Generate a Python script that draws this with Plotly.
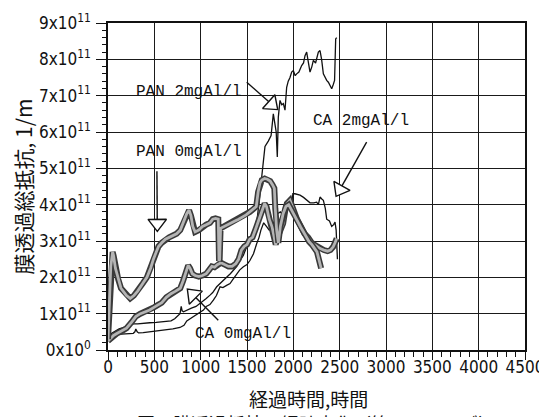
import math
import plotly.graph_objects as go

# ---------------- data (resistance in units of 1e11 1/m, time in hours) ----------------
pan0_h = [0, 15, 30, 50, 60, 80, 110, 140, 170, 200, 240, 280, 320, 350, 380, 420, 460, 490, 520, 545,
          580, 620, 660, 700, 740, 780, 820, 850, 875, 895, 915, 940, 980, 1020, 1060, 1100, 1130, 1160,
          1190, 1198, 1205, 1215, 1250, 1290, 1330, 1370, 1410, 1450, 1490, 1530, 1570, 1600, 1620, 1640,
          1660, 1690, 1720, 1750, 1775, 1795, 1805, 1820, 1838, 1860, 1890, 1920, 1950, 1990, 2020, 2050,
          2080, 2110, 2140, 2170, 2200, 2230, 2255, 2275, 2290, 2300]
pan0_v = [0.3, 1.2, 2.3, 2.7, 2.6, 2.25, 1.95, 1.7, 1.6, 1.5, 1.42, 1.5, 1.62, 1.72, 1.85, 2.0, 2.25, 2.5,
          2.7, 2.85, 2.95, 3.05, 3.1, 3.15, 3.2, 3.3, 3.55, 3.75, 3.85, 3.7, 3.4, 3.25, 3.3, 3.4, 3.45, 3.5,
          3.6, 3.62, 3.6, 2.45, 2.5, 3.35, 3.4, 3.45, 3.5, 3.55, 3.6, 3.65, 3.72, 3.8, 3.88, 3.95, 4.35,
          4.6, 4.68, 4.72, 4.7, 4.65, 4.55, 4.45, 3.9, 3.3, 2.95, 3.4, 3.75, 3.95, 4.0, 3.8, 3.65, 3.5,
          3.38, 3.25, 3.1, 2.98, 2.9, 2.8, 2.7, 2.5, 2.3, 2.25]

ca0_h = [0, 20, 60, 100, 150, 200, 250, 300, 350, 400, 450, 500, 540, 580, 630, 680, 730, 780, 810, 840,
         865, 885, 910, 940, 980, 1020, 1060, 1090, 1120, 1150, 1180, 1220, 1260, 1300, 1340, 1380, 1410,
         1440, 1470, 1500, 1530, 1560, 1600, 1630, 1660, 1690, 1710, 1740, 1770, 1790, 1810, 1830, 1860,
         1890, 1910, 1930, 1964, 2000, 2040, 2080, 2120, 2160, 2200, 2240, 2290, 2330, 2370, 2400, 2430,
         2450, 2468]
ca0_v = [0.25, 0.3, 0.4, 0.46, 0.52, 0.6, 0.75, 0.92, 1.0, 1.05, 1.1, 1.18, 1.24, 1.3, 1.45, 1.55, 1.62,
         1.7, 1.9, 2.15, 2.33, 2.25, 2.1, 2.05, 2.02, 2.05, 2.1, 2.2, 2.3, 2.28, 2.35, 2.4, 2.35, 2.3, 2.3,
         2.38, 2.5, 2.75, 2.85, 2.9, 3.05, 3.1, 3.38, 3.6, 3.85, 4.03, 3.95, 3.6, 3.39, 3.1, 2.9, 3.1, 3.3,
         3.48, 3.8, 4.03, 4.12, 3.85, 3.6, 3.4, 3.2, 3.1, 2.95, 2.88, 2.79, 2.75, 2.72, 2.75, 2.84, 2.95, 3.07]

pan2_h = [0, 20, 40, 80, 120, 180, 230, 273, 320, 380, 450, 520, 580, 633, 680, 720, 760, 777, 790, 800,
          815, 850, 900, 950, 993, 1030, 1060, 1101, 1130, 1173, 1200, 1245, 1280, 1320, 1353, 1390, 1425,
          1460, 1497, 1530, 1560, 1590, 1610, 1630, 1650, 1670, 1694, 1730, 1760, 1784, 1802, 1815, 1827,
          1838, 1856, 1875, 1892, 1910, 1928, 1945, 1964, 1982, 2000, 2020, 2036, 2060, 2090, 2110, 2126,
          2144, 2160, 2180, 2200, 2216, 2240, 2270, 2288, 2305, 2324, 2342, 2360, 2378, 2414, 2430, 2445,
          2457, 2468]
pan2_v = [0.3, 0.38, 0.46, 0.52, 0.58, 0.63, 0.68, 0.72, 0.72, 0.74, 0.75, 0.76, 0.77, 0.78, 0.8, 0.86,
          0.95, 1.0, 1.2, 1.08, 1.05, 1.1, 1.15, 1.2, 1.28, 1.35, 1.42, 1.51, 1.58, 1.74, 1.8, 1.92, 2.0,
          2.1, 2.2, 2.3, 2.47, 2.6, 2.84, 3.0, 3.1, 3.2, 3.6, 4.1, 4.6, 5.0, 5.6, 5.75, 5.9, 6.5, 6.23, 6.0,
          5.31, 6.41, 6.87, 6.75, 6.78, 6.6, 7.23, 7.4, 7.5, 7.65, 7.69, 7.55, 7.6, 7.65, 7.83, 7.9, 8.1,
          8.2, 7.95, 7.65, 7.8, 7.97, 7.9, 8.2, 8.24, 8.0, 7.6, 7.5, 7.42, 7.37, 7.19, 7.3, 7.42, 8.56, 8.6]

ca2_h = [0, 30, 57, 100, 150, 200, 250, 273, 290, 300, 315, 330, 380, 450, 520, 580, 633, 700, 777, 820,
         850, 880, 920, 960, 993, 1030, 1060, 1100, 1137, 1170, 1209, 1240, 1280, 1317, 1350, 1389, 1420,
         1461, 1500, 1533, 1570, 1605, 1630, 1650, 1680, 1710, 1740, 1770, 1800, 1830, 1860, 1890, 1920,
         1950, 1980, 1995, 2018, 2050, 2072, 2110, 2150, 2180, 2220, 2252, 2270, 2288, 2310, 2324, 2345,
         2360, 2390, 2414, 2435, 2450, 2462, 2468, 2474, 2476]
ca2_v = [0.3, 0.36, 0.41, 0.43, 0.44, 0.45, 0.46, 0.46, 0.5, 0.58, 0.5, 0.47, 0.48, 0.5, 0.52, 0.53,
         0.55, 0.58, 0.62, 0.68, 0.8, 0.85, 0.92, 1.0, 1.05, 1.1, 1.2, 1.25, 1.37, 1.5, 1.74, 1.72, 1.78,
         1.83, 1.95, 2.1, 2.2, 2.29, 2.35, 2.47, 2.65, 2.93, 3.1, 3.3, 3.5, 3.4, 3.3, 3.4, 3.6, 3.75, 3.8,
         3.7, 3.85, 3.95, 3.9, 4.3, 4.3, 4.28, 4.26, 4.2, 4.12, 4.05, 4.05, 4.07, 4.0, 4.21, 4.15, 4.12,
         3.9, 3.6, 3.55, 3.4, 3.45, 3.52, 3.3, 3.02, 2.75, 2.5]

x_ticks = [0, 500, 1000, 1500, 2000, 2500, 3000, 3500, 4000, 4500]
y_ticks = [0, 1, 2, 3, 4, 5, 6, 7, 8, 9]
y_ticktext = ["0x10<sup>0</sup>"] + [f"{v}x10<sup>11</sup>" for v in y_ticks[1:]]

labels = ["PAN 2mgAl/l", "PAN 0mgAl/l", "CA 2mgAl/l", "CA 0mgAl/l"]
label_h = [870, 870, 2730, 1460]
label_v = [7.1, 5.45, 6.3, 0.45]
arrow_start_h = [1497, 528, 2791, 1190]
arrow_start_v = [7.37, 4.92, 5.72, 0.82]
arrow_tip_h = [1821, 532, 2468, 866]
arrow_tip_v = [6.64, 3.30, 4.26, 1.65]

x_title = "経過時間,時間"
y_title = "膜透過総抵抗, 1/m"
caption = "図 2 膜透過抵抗の経時変化（第 1 シリーズ）"

# ---------------- figure ----------------
# the page body has an 8px margin, so the figure is 8px smaller than the window
W, H = 539, 409
ML, MR, MT, MB = 100, 22, 15, 67
PH = H - MT - MB
px_per_h = (W - ML - MR) / 4500.0
px_per_v = PH / 9.0

fig = go.Figure()

def thick(hs, vs):
    fig.add_trace(go.Scatter(x=hs, y=vs, mode="lines", line=dict(color="#3a3a3a", width=6),
                             showlegend=False, hoverinfo="skip"))
    fig.add_trace(go.Scatter(x=hs, y=vs, mode="lines", line=dict(color="#b4b4b4", width=2.8),
                             showlegend=False, hoverinfo="skip"))

def thin(hs, vs):
    fig.add_trace(go.Scatter(x=hs, y=vs, mode="lines", line=dict(color="#111111", width=1.3),
                             showlegend=False, hoverinfo="skip"))

thin(ca2_h, ca2_v)
thin(pan2_h, pan2_v)
thick(ca0_h, ca0_v)
thick(pan0_h, pan0_v)

# arrows with open triangle heads
head_size = 16
for sh, sv, th, tv in zip(arrow_start_h, arrow_start_v, arrow_tip_h, arrow_tip_v):
    dx = (th - sh) * px_per_h
    dy = -(tv - sv) * px_per_v
    L = math.hypot(dx, dy)
    ux, uy = dx / L, dy / L
    back = head_size * 0.42
    ch = th - ux * back / px_per_h
    cv = tv + uy * back / px_per_v
    fig.add_trace(go.Scatter(x=[sh, ch], y=[sv, cv], mode="lines",
                             line=dict(color="#111111", width=1.4), showlegend=False, hoverinfo="skip"))
    ang = math.degrees(math.atan2(ux, -uy))
    fig.add_trace(go.Scatter(x=[ch], y=[cv], mode="markers",
                             marker=dict(symbol="triangle-up", size=head_size, angle=ang, color="white",
                                         line=dict(color="#111111", width=1.4)),
                             showlegend=False, hoverinfo="skip"))

for txt, lh, lv in zip(labels, label_h, label_v):
    fig.add_annotation(x=lh, y=lv, text=txt, showarrow=False, xanchor="center", yanchor="middle",
                       font=dict(family="Liberation Mono, DejaVu Sans Mono, monospace", size=16, color="#111111"))

tickfont = dict(family="Liberation Sans Narrow, DejaVu Sans Condensed, Arial Narrow, sans-serif", size=17,
                color="#111111")

fig.update_xaxes(range=[0, 4500], tickvals=x_ticks, ticktext=[str(v) for v in x_ticks],
                 showgrid=True, gridcolor="#1a1a1a", gridwidth=1.2,
                 showline=True, linecolor="#111111", linewidth=1.6, mirror=True,
                 ticks="outside", ticklen=8, tickwidth=1.3, tickcolor="#111111",
                 minor=dict(dtick=100, ticks="outside", ticklen=5, tickwidth=1.1, tickcolor="#111111",
                            showgrid=False),
                 tickfont=tickfont, zeroline=False, ticklabelstandoff=-7, automargin=False)
fig.update_yaxes(range=[0, 9], tickvals=y_ticks, ticktext=y_ticktext,
                 showgrid=True, gridcolor="#1a1a1a", gridwidth=1.2,
                 showline=True, linecolor="#111111", linewidth=1.6, mirror=True,
                 ticks="outside", ticklen=10, tickwidth=1.3, tickcolor="#111111",
                 minor=dict(dtick=0.2, ticks="outside", ticklen=4, tickwidth=1.1, tickcolor="#111111",
                            showgrid=False),
                 tickfont=tickfont, zeroline=False, ticklabelstandoff=2, automargin=False,
                 title=dict(text=y_title, font=dict(family="Noto Sans CJK JP", size=21, color="#111111"),
                            standoff=3))

# x-axis title and (cut-off) figure caption as paper annotations
fig.add_annotation(xref="paper", yref="paper", x=0.48, y=-(390 - (H - MB)) / PH,
                   xanchor="center", yanchor="middle", text=x_title, showarrow=False,
                   font=dict(family="Noto Sans CJK JP", size=19, color="#111111"))
fig.add_annotation(xref="paper", yref="paper", x=0.5, y=-(400 - (H - MB)) / PH,
                   xanchor="center", yanchor="top", text=caption, showarrow=False,
                   font=dict(family="Noto Sans CJK JP", size=18, color="#111111"))

fig.update_layout(width=W, height=H, margin=dict(l=ML, r=MR, t=MT, b=MB, autoexpand=False),
                  paper_bgcolor="white", plot_bgcolor="white", showlegend=False)

fig.write_html("out.html")
